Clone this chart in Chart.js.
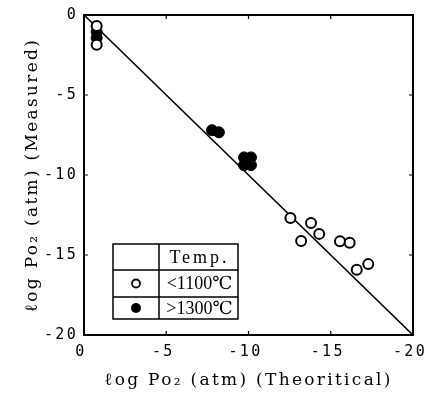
<!DOCTYPE html>
<html>
<head>
<meta charset="utf-8">
<script src="https://cdn.jsdelivr.net/npm/chart.js@4/dist/chart.umd.min.js"></script>
<style>
  html, body { margin: 0; padding: 0; background: #fff; }
  #wrap { width: 435px; height: 395px; }
</style>
</head>
<body>
<div id="wrap"><canvas id="chart" width="435" height="395"></canvas></div>
<script>
// data (log Po2, atm)
const coldX = [-0.77, -0.77, -12.55, -13.8, -14.3, -13.2, -15.56, -16.15, -16.58, -17.28];
const coldY = [-0.68, -1.86, -12.69, -13.0, -13.68, -14.12, -14.14, -14.24, -15.92, -15.57];
const hotX = [-0.77, -0.77, -7.78, -8.2, -9.73, -10.15, -9.73, -10.15];
const hotY = [-1.05, -1.43, -7.2, -7.33, -8.9, -8.9, -9.38, -9.38];
const idealX = [0, -20];
const idealY = [0, -20];
const tickValues = [0, -5, -10, -15, -20];

const legendRows = [
  { label: "<1100\u2103", filled: false },
  { label: ">1300\u2103", filled: true },
];

const toPoints = (xs, ys) => xs.map((x, i) => ({ x, y: ys[i] }));

/* ---------- plugins ---------- */

const spacing = {
  id: "spacing",
  beforeDraw(chart) { chart.ctx.letterSpacing = "2.3px"; },
  beforeDatasetsDraw(chart) { chart.ctx.letterSpacing = "0px"; },
};

// frame round the plot and short ticks pointing inward
const frame = {
  id: "frame",
  beforeDatasetsDraw(chart) {
    const { ctx, chartArea: a, scales } = chart;
    ctx.save();
    ctx.strokeStyle = "#000";
    ctx.lineWidth = 2;
    ctx.strokeRect(a.left, a.top, a.right - a.left, a.bottom - a.top);
    ctx.lineWidth = 1.2;
    ctx.beginPath();
    tickValues.forEach((v) => {
      const px = scales.x.getPixelForValue(v);
      const py = scales.y.getPixelForValue(v);
      ctx.moveTo(px, a.bottom); ctx.lineTo(px, a.bottom - 4);
      ctx.moveTo(px, a.top); ctx.lineTo(px, a.top + 4);
      ctx.moveTo(a.left, py); ctx.lineTo(a.left + 4, py);
      ctx.moveTo(a.right, py); ctx.lineTo(a.right - 4, py);
    });
    ctx.stroke();
    ctx.restore();
  },
};

// the little Temp. table in the lower left
const tempTable = {
  id: "tempTable",
  afterDatasetsDraw(chart) {
    const { ctx, chartArea: a } = chart;
    const bx = a.left + 29, by = a.top + 229, w = 125, col = 46;
    const rowH = [26, 27, 22];
    const h = rowH.reduce((s, r) => s + r, 0);
    ctx.save();
    ctx.fillStyle = "#fff";
    ctx.fillRect(bx, by, w, h);
    ctx.strokeStyle = "#000";
    ctx.lineWidth = 1.5;
    ctx.strokeRect(bx, by, w, h);
    ctx.beginPath();
    ctx.moveTo(bx + col, by); ctx.lineTo(bx + col, by + h);
    let y = by;
    rowH.slice(0, -1).forEach((r) => {
      y += r;
      ctx.moveTo(bx, y); ctx.lineTo(bx + w, y);
    });
    ctx.stroke();

    ctx.fillStyle = "#000";
    ctx.textAlign = "center";
    ctx.textBaseline = "middle";
    ctx.font = "18px 'Liberation Serif', serif";
    ctx.letterSpacing = "3px";
    const textX = bx + col + (w - col) / 2;
    ctx.fillText("Temp.", textX + 1, by + rowH[0] / 2 + 1);
    ctx.letterSpacing = "0px";
    ctx.font = "18px 'Liberation Serif', 'DejaVu Serif', serif";
    let rowTop = by + rowH[0];
    legendRows.forEach((row, i) => {
      const cy = rowTop + rowH[i + 1] / 2;
      ctx.fillText(row.label, textX + 1, cy + 1);
      ctx.beginPath();
      ctx.arc(bx + col / 2, cy, row.filled ? 5 : 4, 0, Math.PI * 2);
      if (row.filled) ctx.fill();
      else { ctx.lineWidth = 1.8; ctx.stroke(); }
      rowTop += rowH[i + 1];
    });
    ctx.restore();
  },
};

/* ---------- chart ---------- */

const tickFont = { family: "'DejaVu Sans Mono', monospace", size: 15 };
const titleFont = { family: "'DejaVu Serif', serif", size: 17 };

new Chart(document.getElementById("chart"), {
  type: "scatter",
  data: {
    datasets: [
      {
        label: "ideal",
        data: toPoints(idealX, idealY),
        showLine: true,
        borderColor: "#000",
        borderWidth: 1.6,
        pointRadius: 0,
        order: 3,
      },
      {
        label: "<1100\u2103",
        data: toPoints(coldX, coldY),
        pointRadius: 5,
        pointBorderWidth: 2,
        pointBorderColor: "#000",
        pointBackgroundColor: "#fff",
        order: 1,
      },
      {
        label: ">1300\u2103",
        data: toPoints(hotX, hotY),
        pointRadius: 5.5,
        pointBorderWidth: 1,
        pointBorderColor: "#000",
        pointBackgroundColor: "#000",
        order: 2,
      },
    ],
  },
  options: {
    responsive: false,
    animation: false,
    devicePixelRatio: 1,
    layout: { padding: { left: 0, right: 22, top: 13, bottom: 0 } },
    plugins: { legend: { display: false }, tooltip: { enabled: false } },
    scales: {
      x: {
        type: "linear",
        min: -20,
        max: 0,
        reverse: true,
        afterFit: (s) => { s.height = 60; },
        grid: { display: false, drawTicks: false },
        border: { display: false },
        ticks: {
          stepSize: 5,
          padding: 8,
          labelOffset: -3,
          color: "#000",
          font: tickFont,
        },
        title: {
          display: true,
          text: "\u2113og Po\u2082 (atm) (Theoritical)",
          color: "#000",
          font: titleFont,
          padding: { top: 0, bottom: 4 },
        },
      },
      y: {
        type: "linear",
        min: -20,
        max: 0,
        afterFit: (s) => { s.width = 84; },
        grid: { display: false, drawTicks: false },
        border: { display: false },
        ticks: {
          stepSize: 5,
          padding: 6,
          color: "#000",
          font: tickFont,
        },
        title: {
          display: true,
          text: "\u2113og Po\u2082 (atm) (Measured)",
          color: "#000",
          font: titleFont,
          padding: { top: 22, bottom: 0 },
        },
      },
    },
  },
  plugins: [spacing, frame, tempTable],
});
</script>
</body>
</html>
